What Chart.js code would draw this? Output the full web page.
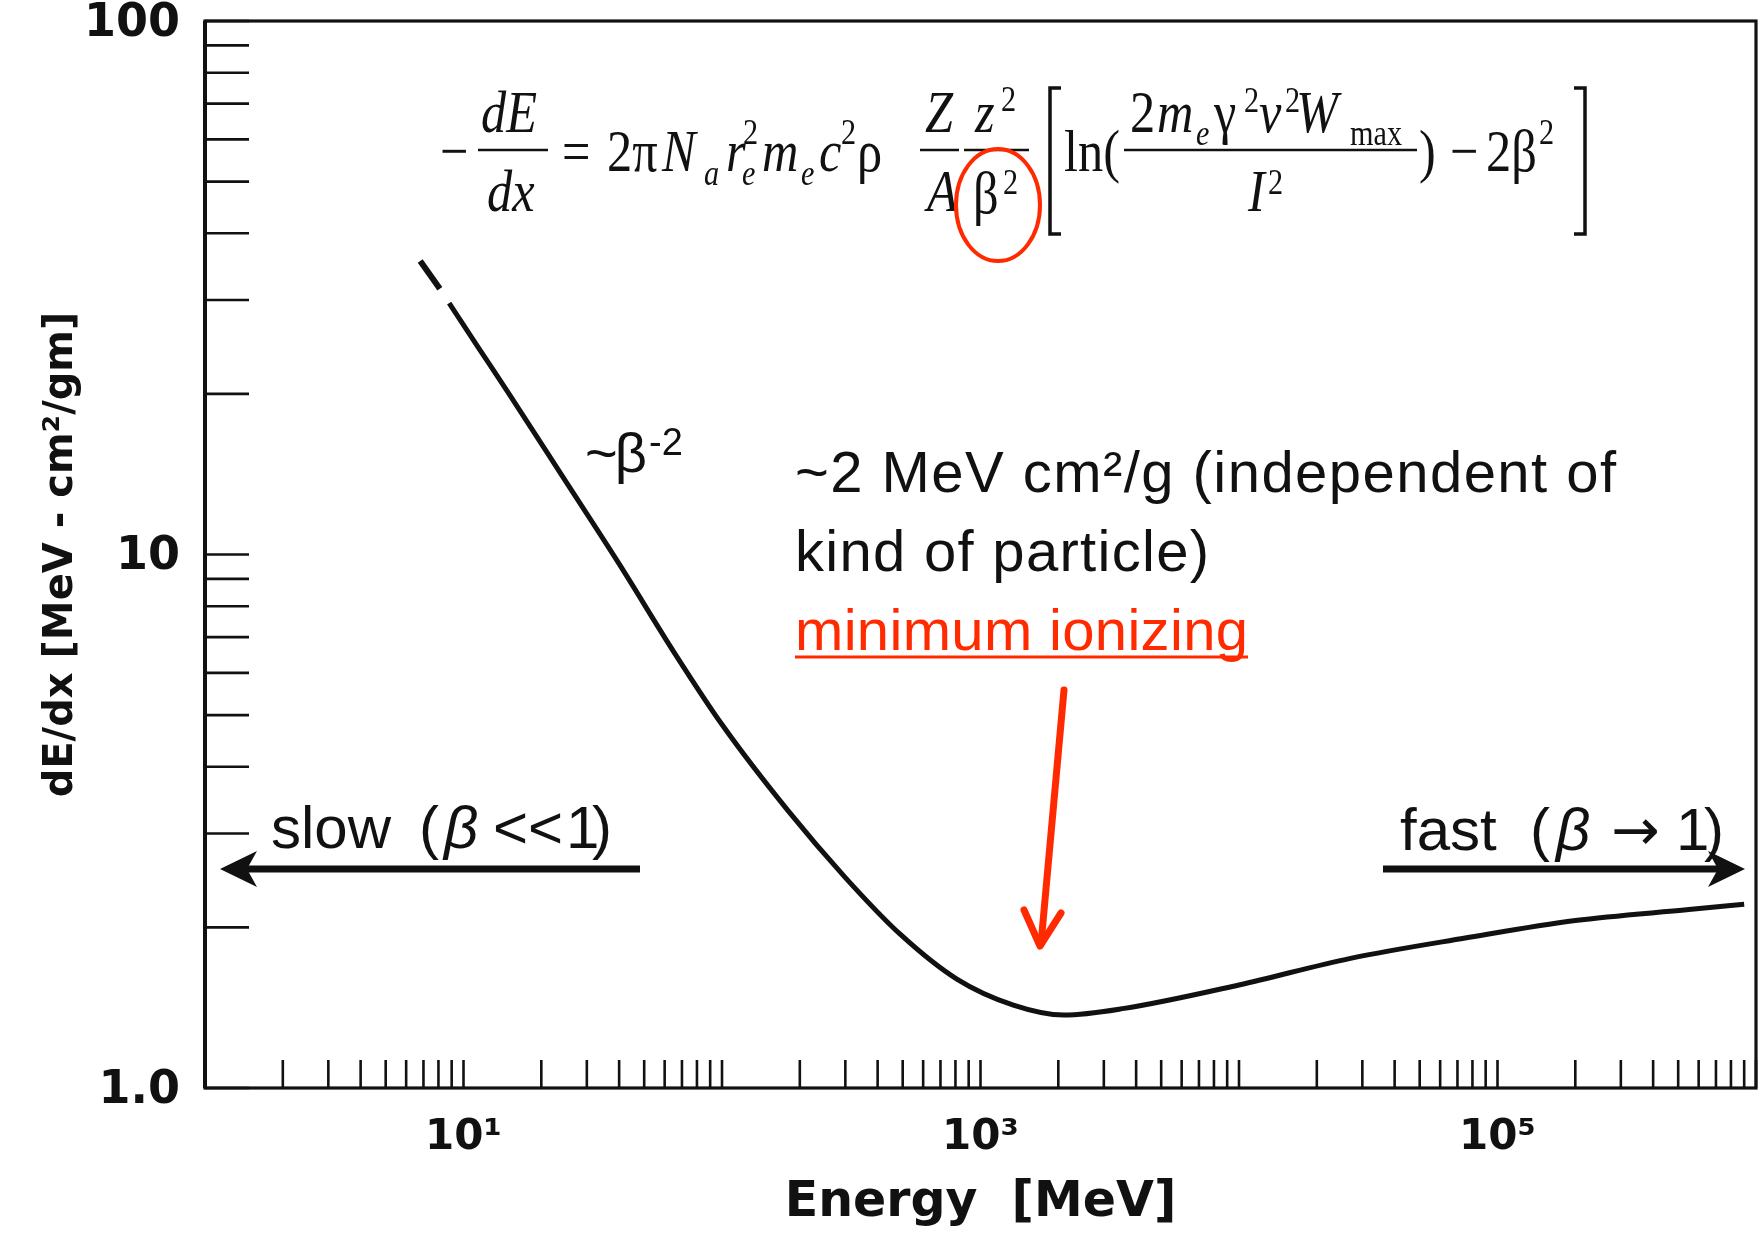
<!DOCTYPE html>
<html><head><meta charset="utf-8">
<script src="https://cdn.jsdelivr.net/npm/chart.js@4.4.1/dist/chart.umd.min.js"></script>
<style>html,body{margin:0;padding:0;background:#fff;}canvas{display:block;}</style>
</head><body>
<canvas id="c" width="1763" height="1233"></canvas>
<script>
// ---- data ----
const energyMeV = [8.8, 11.5, 15, 24.4, 40, 66, 100, 180, 300, 490, 810, 1340, 2100, 3600, 10000, 27000, 75000, 200000, 550000, 900000];
const stoppingPower = [29.6, 24.3, 20.0, 13.9, 9.6, 6.5, 4.8, 3.31, 2.48, 1.94, 1.60, 1.43, 1.37, 1.41, 1.56, 1.75, 1.91, 2.06, 2.16, 2.21];
const dashEnergyMeV = [6.8, 8.1];
const dashStoppingPower = [35.5, 31.5];
const xTickLabels = {10: '10¹', 1000: '10³', 100000: '10⁵'};
const yTickLabels = {1: '1.0', 10: '10', 100: '100'};
const xRange = [1, 1e6];
const yRange = [1, 100];

function logTicks(min, max) {
  const out = [];
  for (let e = Math.round(Math.log10(min)); e <= Math.round(Math.log10(max)); e++) {
    for (let m = 1; m <= 9; m++) {
      const v = m * Math.pow(10, e);
      if (v >= min && v <= max) out.push({value: v});
    }
  }
  return out;
}

const INK = '#111';
const RED = '#ff2a00';
const SANS = '"Liberation Sans", Arial, sans-serif';
const SERIF = '"Liberation Serif", "DejaVu Serif", serif';

function fitText(ctx, s, x, y, size, width, family, style, color) {
  ctx.font = (style || '') + ' ' + size + 'px ' + family;
  ctx.letterSpacing = '0px';
  const w = ctx.measureText(s).width;
  const n = [...s].length;
  const ls = n > 1 ? (width - w) / (n - 1) : 0;
  ctx.letterSpacing = ls + 'px';
  ctx.fillStyle = color;
  ctx.fillText(s, x, y);
  ctx.letterSpacing = '0px';
}
function t(ctx, s, x, y, size, style, family, color, sx) {
  ctx.save();
  ctx.font = (style || '') + ' ' + size + 'px ' + (family || SERIF);
  ctx.fillStyle = color || INK;
  ctx.translate(x, y);
  ctx.scale(sx || 1, 1);
  ctx.fillText(s, 0, 0);
  ctx.restore();
}
// formula glyph: condensed serif
function f(ctx, s, x, y, size, style) { t(ctx, s, x, y, size, style, SERIF, INK, 0.84); }
function line(ctx, x1, y1, x2, y2, w, color, cap) {
  ctx.beginPath(); ctx.moveTo(x1, y1); ctx.lineTo(x2, y2);
  ctx.lineWidth = w; ctx.strokeStyle = color; ctx.lineCap = cap || 'butt'; ctx.stroke();
}

const framePlugin = {
  id: 'frame',
  afterDatasetsDraw(chart) {
    const {ctx, chartArea: a, scales: {x, y}} = chart;
    ctx.save();
    ctx.lineWidth = 3.2; ctx.strokeStyle = INK;
    ctx.strokeRect(a.left, a.top, a.right - a.left, a.bottom - a.top);
    line(ctx, a.left, a.top, a.left, a.bottom, 4, INK);
    x.ticks.forEach(tk => {
      const px = x.getPixelForValue(tk.value);
      line(ctx, px, a.bottom, px, a.bottom - 28, 2.6, INK);
    });
    y.ticks.forEach(tk => {
      const py = y.getPixelForValue(tk.value);
      line(ctx, a.left, py, a.left + 44, py, 2.6, INK);
    });
    ctx.restore();
  }
};

const notePlugin = {
  id: 'notes',
  afterDraw(chart) {
    const ctx = chart.ctx;
    ctx.save();
    ctx.textBaseline = 'alphabetic';
    ctx.textAlign = 'left';
    // ---- formula ----
    const S = 60, s = 36;
    f(ctx, '\u2212', 440, 171, S);
    f(ctx, 'dE', 481, 132, S, 'italic');
    f(ctx, 'dx', 487, 211, S, 'italic');
    f(ctx, '=', 562, 171, S);
    f(ctx, '2\u03c0', 607, 171, S);
    f(ctx, 'N', 662, 171, S, 'italic');
    f(ctx, 'a', 704, 185, s, 'italic');
    f(ctx, 'r', 726, 171, S, 'italic');
    f(ctx, '2', 743, 144, s);
    f(ctx, 'e', 742, 185, s, 'italic');
    f(ctx, 'm', 762, 171, S, 'italic');
    f(ctx, 'e', 801, 185, s, 'italic');
    f(ctx, 'c', 819, 171, S, 'italic');
    f(ctx, '2', 841, 144, s);
    f(ctx, '\u03c1', 857, 171, S);
    f(ctx, 'Z', 925, 132, S, 'italic');
    f(ctx, 'A', 927, 211, S, 'italic');
    f(ctx, 'z', 975, 132, S, 'italic');
    f(ctx, '2', 1001, 111, s);
    f(ctx, '\u03b2', 973, 213, S);
    f(ctx, '2', 1003, 194, s);
    f(ctx, 'ln(', 1064, 171, S);
    f(ctx, '2', 1130, 132, S);
    f(ctx, 'm', 1157, 132, S, 'italic');
    f(ctx, 'e', 1196, 145, s, 'italic');
    f(ctx, '\u03b3', 1214, 132, S);
    f(ctx, '2', 1244, 112, s);
    f(ctx, 'v', 1259, 132, S, 'italic');
    f(ctx, '2', 1285, 112, s);
    f(ctx, 'W', 1296, 132, S, 'italic');
    f(ctx, 'max', 1350, 145, s);
    f(ctx, 'I', 1248, 211, S, 'italic');
    f(ctx, '2', 1268, 194, s);
    f(ctx, ')', 1419, 171, S);
    f(ctx, '\u2212', 1450, 171, S);
    f(ctx, '2\u03b2', 1486, 171, S);
    f(ctx, '2', 1539, 144, s);
    [[478, 548], [920, 959], [964, 1029], [1124, 1417]].forEach(b => line(ctx, b[0], 150, b[1], 150, 2.5, INK));
    // brackets
    ctx.beginPath(); ctx.moveTo(1061, 88); ctx.lineTo(1050, 88); ctx.lineTo(1050, 234); ctx.lineTo(1061, 234);
    ctx.lineWidth = 3.5; ctx.strokeStyle = INK; ctx.lineJoin = 'miter'; ctx.stroke();
    ctx.beginPath(); ctx.moveTo(1574, 88); ctx.lineTo(1585, 88); ctx.lineTo(1585, 234); ctx.lineTo(1574, 234); ctx.stroke();
    // red ellipse
    ctx.beginPath(); ctx.ellipse(998, 205, 42, 56, 0, 0, Math.PI * 2);
    ctx.lineWidth = 4; ctx.strokeStyle = RED; ctx.stroke();

    // ---- annotations ----
    fitText(ctx, '~\u03b2', 585, 472, 56, 62, SANS, '', INK);
    fitText(ctx, '-2', 649, 455, 38, 34, SANS, '', INK);
    fitText(ctx, '~2 MeV cm\u00b2/g (independent of', 795, 492, 58, 821, SANS, '', INK);
    fitText(ctx, 'kind of particle)', 795, 571, 58, 414, SANS, '', INK);
    fitText(ctx, 'minimum ionizing', 795, 650, 58, 453, SANS, '', RED);
    line(ctx, 795, 657, 1248, 657, 3, RED);

    // slow
    t(ctx, 'slow', 271, 848, 60, '', SANS);
    t(ctx, '(', 419, 848, 60, '', SANS);
    t(ctx, '\u03b2', 444, 848, 60, 'italic', SANS);
    t(ctx, '<<', 493, 848, 60, '', SANS);
    t(ctx, '1', 566, 848, 60, '', SANS);
    t(ctx, ')', 592, 848, 60, '', SANS);
    line(ctx, 640, 869, 240, 869, 7, INK);
    ctx.beginPath(); ctx.moveTo(220, 869); ctx.lineTo(257, 851); ctx.lineTo(247, 869); ctx.lineTo(257, 887); ctx.closePath();
    ctx.fillStyle = INK; ctx.fill();
    // fast
    t(ctx, 'fast', 1400, 850, 60, '', SANS);
    t(ctx, '(', 1530, 850, 60, '', SANS);
    t(ctx, '\u03b2', 1556, 850, 60, 'italic', SANS);
    t(ctx, '\u2192', 1611, 850, 58, '', '"DejaVu Sans", sans-serif');
    t(ctx, '1', 1676, 850, 60, '', SANS);
    t(ctx, ')', 1704, 850, 60, '', SANS);
    line(ctx, 1383, 869, 1725, 869, 7, INK);
    ctx.beginPath(); ctx.moveTo(1745, 869); ctx.lineTo(1708, 851); ctx.lineTo(1718, 869); ctx.lineTo(1708, 887); ctx.closePath();
    ctx.fillStyle = INK; ctx.fill();
    // red arrow
    ctx.lineJoin = 'round';
    line(ctx, 1064, 690, 1041, 944, 7, RED, 'round');
    ctx.beginPath(); ctx.moveTo(1024, 910); ctx.lineTo(1040, 946); ctx.lineTo(1061, 913);
    ctx.lineWidth = 7; ctx.strokeStyle = RED; ctx.lineCap = 'round'; ctx.stroke();
    ctx.restore();
  }
};

const axisFont = {family: '"DejaVu Sans", sans-serif', weight: 'bold'};

new Chart(document.getElementById('c').getContext('2d'), {
  type: 'line',
  data: {
    datasets: [
      {data: energyMeV.map((x, i) => ({x, y: stoppingPower[i]})), borderColor: INK, borderWidth: 5,
       pointRadius: 0, cubicInterpolationMode: 'monotone', fill: false},
      {data: dashEnergyMeV.map((x, i) => ({x, y: dashStoppingPower[i]})), borderColor: INK, borderWidth: 6,
       pointRadius: 0, fill: false}
    ]
  },
  options: {
    responsive: false, animation: false, devicePixelRatio: 1,
    layout: {padding: {top: 21, right: 7, left: 0, bottom: 0}},
    plugins: {legend: {display: false}, tooltip: {enabled: false}},
    scales: {
      x: {
        type: 'logarithmic', min: xRange[0], max: xRange[1],
        afterBuildTicks: sc => { sc.ticks = logTicks(xRange[0], xRange[1]); },
        afterFit: sc => { sc.height = 145; sc.paddingLeft = 0; sc.paddingRight = 0; },
        grid: {display: false, drawTicks: false}, border: {display: false},
        ticks: {autoSkip: false, maxRotation: 0, padding: 25, color: INK,
                font: Object.assign({size: 42}, axisFont), callback: v => xTickLabels[v] || ''},
        title: {display: true, text: 'Energy  [MeV]', color: INK, font: Object.assign({size: 49}, axisFont), padding: {top: 0, bottom: 0}}
      },
      y: {
        type: 'logarithmic', min: yRange[0], max: yRange[1],
        afterBuildTicks: sc => { sc.ticks = logTicks(yRange[0], yRange[1]); },
        afterFit: sc => { sc.width = 205; sc.paddingTop = 0; sc.paddingBottom = 0; },
        grid: {display: false, drawTicks: false}, border: {display: false},
        ticks: {autoSkip: false, padding: 25, labelOffset: 3, color: INK,
                font: Object.assign({size: 46}, axisFont), callback: v => yTickLabels[v] || ''},
        title: {display: true, text: 'dE/dx [MeV - cm\u00b2/gm]', color: INK, font: Object.assign({size: 40}, axisFont), padding: {top: 38, bottom: 0}}
      }
    }
  },
  plugins: [framePlugin, notePlugin]
});
</script>
</body></html>
